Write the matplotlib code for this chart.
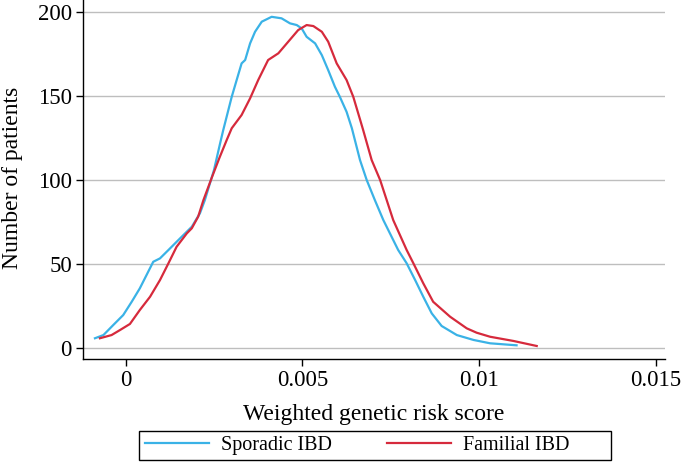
import matplotlib
matplotlib.use("Agg")
import matplotlib.pyplot as plt
from matplotlib.patches import Rectangle

plt.rcParams['font.family'] = ['Liberation Serif', 'DejaVu Serif']

# Sporadic IBD (blue)
sporadic_x = [-0.00087, -0.00063, -0.00035, -0.00007, 0.00017, 0.00040, 0.00059, 0.00078,
              0.00097, 0.00121, 0.00149, 0.00173, 0.00187, 0.00210, 0.00224, 0.00250,
              0.00267, 0.00276, 0.00300, 0.00314, 0.00328, 0.00338, 0.00352, 0.00366,
              0.00385, 0.00413, 0.00441, 0.00465, 0.00484, 0.00498, 0.00512, 0.00536,
              0.00555, 0.00573, 0.00592, 0.00606, 0.00625, 0.00640, 0.00663, 0.00682,
              0.00705, 0.00729, 0.00771, 0.00795, 0.00820, 0.00842, 0.00866, 0.00894,
              0.00937, 0.00984, 0.01031, 0.01106]
sporadic_y = [5.8, 7.7, 13.7, 19.6, 27.5, 35.5, 43.4, 51.3,
              53.3, 58.3, 64.2, 69.2, 72.1, 80.1, 88.0, 106.0,
              121.6, 129.6, 149.4, 159.4, 169.3, 171.3, 181.2, 188.1,
              194.1, 197.0, 196.1, 193.1, 192.1, 190.1, 185.1, 181.2,
              174.2, 165.3, 155.4, 149.4, 140.5, 130.7, 111.8, 99.9,
              88.0, 76.1, 58.3, 50.4, 40.0, 30.5, 20.6, 13.1,
              7.7, 4.8, 2.8, 1.6]

# Familial IBD (red)
familial_x = [-0.00073, -0.00040, -0.00016, 0.00012, 0.00040, 0.00069, 0.00097, 0.00121,
              0.00144, 0.00173, 0.00187, 0.00205, 0.00220, 0.00243, 0.00265, 0.00286,
              0.00300, 0.00328, 0.00352, 0.00375, 0.00403, 0.00432, 0.00460, 0.00488,
              0.00512, 0.00531, 0.00555, 0.00573, 0.00597, 0.00625, 0.00644, 0.00663,
              0.00672, 0.00696, 0.00720, 0.00757, 0.00795, 0.00814, 0.00842, 0.00870,
              0.00918, 0.00965, 0.00993, 0.01031, 0.01097, 0.01163]
familial_y = [5.8, 7.7, 10.7, 14.3, 22.6, 30.5, 40.4, 50.4,
              60.2, 68.2, 71.2, 78.1, 88.0, 101.0, 113.0, 123.8,
              130.7, 138.6, 148.5, 159.4, 171.3, 175.3, 182.2, 189.1,
              192.1, 191.5, 188.1, 182.2, 169.3, 159.4, 149.4, 136.0,
              129.6, 111.8, 99.9, 76.1, 58.3, 50.4, 38.5, 27.5,
              18.6, 11.7, 9.1, 6.7, 4.2, 1.2]

x_ticks = [0, 0.005, 0.01, 0.015]
x_tick_labels = ['0', '0.005', '0.01', '0.015']
y_ticks = [0, 50, 100, 150, 200]
y_tick_labels = ['0', '50', '100', '150', '200']

BLUE = '#3AB2E6'
RED = '#D62A3C'

W, H = 684, 462
fig = plt.figure(figsize=(W / 100, H / 100), dpi=100)
ax = fig.add_axes([83 / W, (H - 359) / H, (665 - 83) / W, 359 / H])

ax.set_xlim(-0.001208, 0.01526)
ax.set_ylim(-6.54, 207.0)

for yv in y_ticks:
    ax.axhline(yv, color='#BEBEBE', lw=1.0, zorder=0)

l1, = ax.plot(sporadic_x, sporadic_y, color=BLUE, lw=1.6, zorder=3)
l2, = ax.plot(familial_x, familial_y, color=RED, lw=1.6, zorder=3)

ax.set_xticks(x_ticks)
ax.set_xticklabels(x_tick_labels)
ax.set_yticks(y_ticks)
ax.set_yticklabels(y_tick_labels)
ax.tick_params(axis='both', direction='out', length=5, width=1.0, labelsize=16.5, color='black')
ax.tick_params(axis='x', pad=3)
ax.tick_params(axis='y', pad=3)

for s in ['top', 'right']:
    ax.spines[s].set_visible(False)
for s in ['left', 'bottom']:
    ax.spines[s].set_linewidth(1.0)
    ax.spines[s].set_color('black')

fig.text(374 / W, (H - 420) / H, 'Weighted genetic risk score', ha='center', va='baseline', fontsize=17)
fig.text(18.5 / W, (H - 177.5) / H, 'Number of patients', ha='center', va='baseline',
         rotation=90, rotation_mode='anchor', fontsize=17)

# legend
fig.add_artist(Rectangle((139 / W, 2 / H), 472 / W, 29 / H, transform=fig.transFigure,
                         fill=False, ec='black', lw=1.0))
leg_kw = dict(loc='center left', frameon=False, borderpad=0, borderaxespad=0,
              handlelength=3.18, handletextpad=0.6, fontsize=14.5)
fig.legend([l1], ['Sporadic IBD'], bbox_to_anchor=(145 / W, (H - 445.5) / H), **leg_kw)
fig.legend([l2], ['Familial IBD'], bbox_to_anchor=(387 / W, (H - 445.5) / H), **leg_kw)

fig.savefig('out.png', dpi=100)
